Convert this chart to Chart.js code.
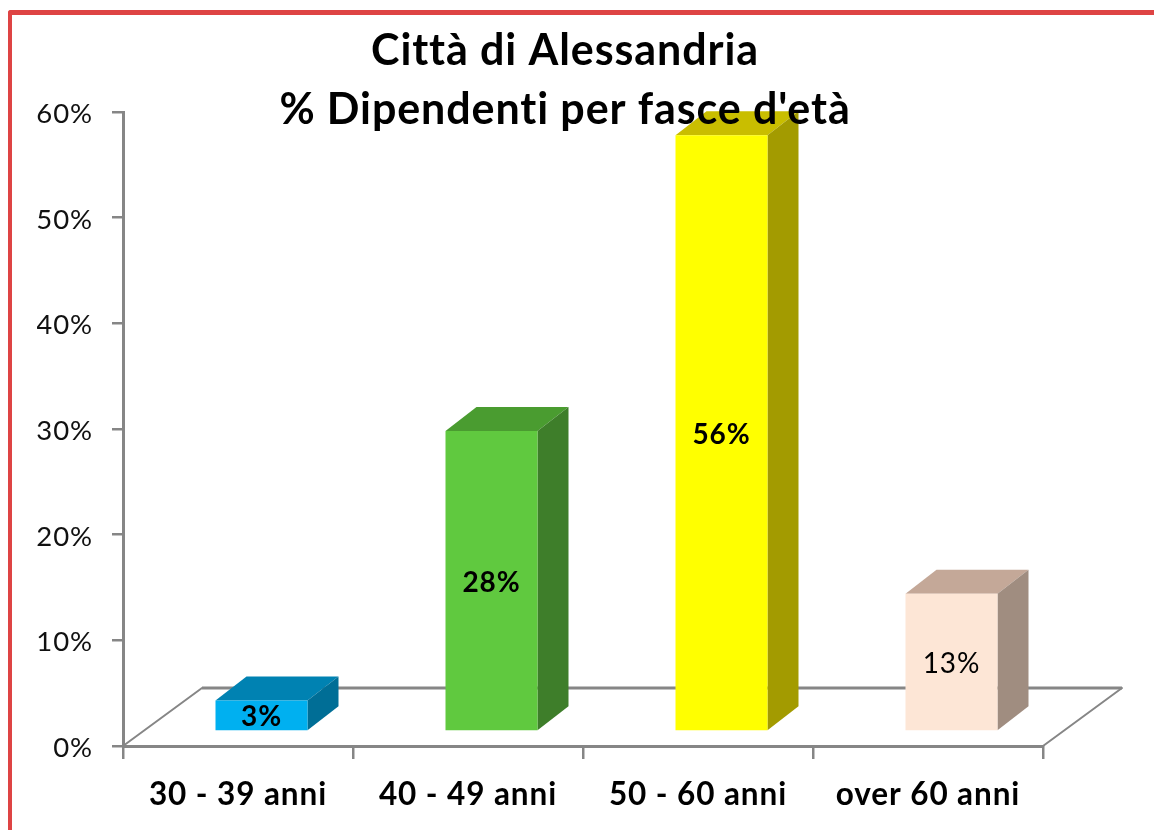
<!DOCTYPE html>
<html><head><meta charset="utf-8">
<style>
html,body{margin:0;padding:0;background:#fff;width:1154px;height:830px;overflow:hidden}
#frame{position:absolute;left:8px;top:10px;right:0;bottom:0;border-top:5px solid #DE4444;border-left:4px solid #DE4444;border-top-left-radius:3px}
canvas{position:absolute;left:0;top:0}
</style>
<script src="https://cdn.jsdelivr.net/npm/chart.js@4"></script>
</head><body>
<div id="frame"></div>
<canvas id="c" width="1154" height="830"></canvas>
<script>
const categories = ['30 - 39 anni','40 - 49 anni','50 - 60 anni','over 60 anni'];
const percentValues = [2.8, 28.3, 56.3, 12.9];
const boldLabels = [true, true, true, false];
const frontColors = ['#00B0F0','#60C93F','#FFFF00','#FDE6D6'];
const topColors = ['#0082B2','#4A9C30','#C9BE00','#C4A898'];
const sideColors = ['#006E96','#3E7E2A','#A39B00','#A08D80'];
const tickValues = [0,10,20,30,40,50,60];
const titleLines = ['Città di Alessandria',"% Dipendenti per fasce d'età"];

const FLOOR_BASE = 1.5, DX = 31, DY = 24, BAR_SHIFT = 23.5, FLOOR_DX = 79, FLOOR_DY = 58;
const AXIS = '#868686', FAMILY = 'Lato, Carlito, sans-serif', SPACING = '0.9px';

const canvasEl = document.getElementById('c');

const box3d = {
  id:'box3d',
  beforeLayout(chart){
    chart.ctx.letterSpacing = SPACING;
    const t = chart.titleBlock;
    if(!t._patched){
      t._patched = true;
      const u = t.update.bind(t);
      t.update = function(w,h){ u(w,h); this.height = 90; this.bottom = this.top + 90; };
      t._layers = () => [{z:10, draw(a){ t.draw(a); }}];
    }
  },
  afterLayout(chart){
    chart.titleBlock.left = 87;
  },
  beforeDraw(chart){
    chart.ctx.letterSpacing = SPACING;
  },
  afterDatasetsUpdate(chart){
    chart.getDatasetMeta(0).data.forEach(el => { el.x += BAR_SHIFT; });
  },
  beforeDatasetsDraw(chart){
    const {ctx, scales:{x,y}} = chart;
    const L = x.left, R = x.right, B = y.getPixelForValue(0);
    ctx.save();
    ctx.strokeStyle = AXIS; ctx.lineCap='round';
    ctx.lineWidth = 2;
    ctx.beginPath();
    ctx.moveTo(L,B); ctx.lineTo(L+FLOOR_DX,B-FLOOR_DY);
    ctx.moveTo(R,B); ctx.lineTo(R+FLOOR_DX,B-FLOOR_DY);
    ctx.stroke();
    ctx.lineWidth = 3; ctx.lineCap='butt';
    ctx.beginPath();
    ctx.moveTo(L+FLOOR_DX,B-FLOOR_DY); ctx.lineTo(R+FLOOR_DX,B-FLOOR_DY);
    ctx.stroke();
    chart.getDatasetMeta(0).data.forEach((el,i) => {
      const w = el.width/2, l = el.x-w, r = el.x+w, t = el.y, b = el.base;
      ctx.fillStyle = topColors[i];
      ctx.beginPath();
      ctx.moveTo(l,t); ctx.lineTo(l+DX,t-DY); ctx.lineTo(r+DX,t-DY); ctx.lineTo(r,t); ctx.closePath(); ctx.fill();
      ctx.fillStyle = sideColors[i];
      ctx.beginPath();
      ctx.moveTo(r,t); ctx.lineTo(r+DX,t-DY); ctx.lineTo(r+DX,b-DY); ctx.lineTo(r,b); ctx.closePath(); ctx.fill();
    });
    ctx.restore();
  },
  afterDatasetsDraw(chart){
    const {ctx} = chart;
    ctx.save();
    ctx.textAlign='center'; ctx.textBaseline='middle'; ctx.fillStyle='#000';
    chart.getDatasetMeta(0).data.forEach((el,i) => {
      ctx.font = (boldLabels[i]?'bold ':'')+'28px '+FAMILY;
      ctx.fillText(Math.round(percentValues[i])+'%', el.x, (el.y+el.base)/2+2);
    });
    ctx.restore();
  }
};

new Chart(canvasEl,{
  type:'bar',
  data:{labels:categories,datasets:[{
    data:percentValues.map(v=>[FLOOR_BASE,FLOOR_BASE+v]),
    backgroundColor:frontColors,borderWidth:0,
    categoryPercentage:1,barPercentage:0.4
  }]},
  options:{
    responsive:false,animation:false,
    layout:{padding:{left:37,right:111,top:22,bottom:0}},
    plugins:{
      legend:{display:false},tooltip:{enabled:false},
      title:{display:true,text:titleLines,color:'#000',padding:0,
        font:{family:FAMILY,size:43,weight:'bold',lineHeight:1.37}}
    },
    scales:{
      x:{
        offset:true,
        grid:{offset:true,drawOnChartArea:false,drawTicks:true,tickLength:13,color:AXIS,lineWidth:2.5},
        border:{color:AXIS,width:3},
        ticks:{color:'#000',padding:17,maxRotation:0,autoSkip:false,font:{family:FAMILY,size:31.5,weight:'bold'}},
        afterFit(s){s.height=84;}
      },
      y:{
        min:0,max:60,
        afterBuildTicks(s){s.ticks=tickValues.map(v=>({value:v}));},
        grid:{drawOnChartArea:false,drawTicks:true,tickLength:11,color:AXIS,lineWidth:2.5},
        border:{color:AXIS,width:3},
        ticks:{color:'#111',padding:19,labelOffset:2,callback:v=>v+'%',font:{family:FAMILY,size:27.5}},
        afterFit(s){s.width=86;}
      }
    }
  },
  plugins:[box3d]
});
</script>
</body></html>
